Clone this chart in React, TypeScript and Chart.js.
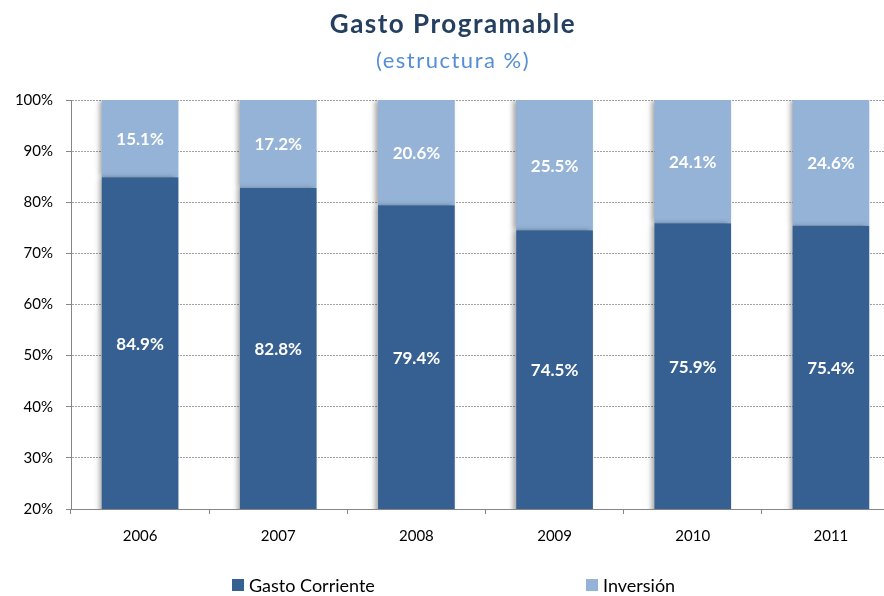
import React, { useEffect, useRef } from "react";
import { Chart, registerables } from "chart.js";

Chart.register(...registerables);

const categories = ["2006", "2007", "2008", "2009", "2010", "2011"];
const gastoCorriente = [84.9, 82.8, 79.4, 74.5, 75.9, 75.4];
const inversion = [15.1, 17.2, 20.6, 25.5, 24.1, 24.6];
const seriesNames = ["Gasto Corriente", "Inversión"];
const yTicks = [20, 30, 40, 50, 60, 70, 80, 90, 100];

const DARK = "#376092";
const LIGHT = "#95B3D7";
const FONT = "Lato, 'Open Sans', sans-serif";

const decorPlugin = {
  id: "decor",
  beforeDatasetsDraw(chart: any) {
    const ctx = chart.ctx;
    ctx.save();
    ctx.shadowColor = "rgba(0,0,0,0.35)";
    ctx.shadowBlur = 5;
    ctx.shadowOffsetX = -3;
    ctx.shadowOffsetY = 0;
  },
  afterDatasetsDraw(chart: any) {
    const ctx = chart.ctx;
    ctx.restore();
    const area = chart.chartArea;
    ctx.save();
    ctx.fillStyle = "#ffffff";
    ctx.font = `bold 17px ${FONT}`;
    ctx.textAlign = "center";
    ctx.textBaseline = "middle";
    chart.data.datasets.forEach((ds: any, i: number) => {
      const meta = chart.getDatasetMeta(i);
      meta.data.forEach((bar: any, j: number) => {
        const top = Math.max(bar.y, area.top);
        const bottom = Math.min(bar.base, area.bottom);
        ctx.fillText(ds.data[j].toFixed(1) + "%", bar.x, (top + bottom) / 2 + 1);
      });
    });
    ctx.restore();
  },
  afterDraw(chart: any) {
    const ctx = chart.ctx;
    const cx = chart.width / 2 + 3;
    ctx.save();
    ctx.textAlign = "center";
    ctx.textBaseline = "alphabetic";
    ctx.fillStyle = "#243F60";
    ctx.font = `bold 26px ${FONT}`;
    (ctx as any).letterSpacing = "1.5px";
    ctx.fillText("Gasto Programable", cx, 33);
    ctx.fillStyle = "#558ED5";
    ctx.font = `22px ${FONT}`;
    (ctx as any).letterSpacing = "1.5px";
    ctx.fillText("(estructura %)", cx, 68);
    (ctx as any).letterSpacing = "0px";

    // legend
    const colors = [DARK, LIGHT];
    const starts = [232, 586];
    ctx.font = `18px ${FONT}`;
    ctx.textAlign = "left";
    ctx.textBaseline = "middle";
    seriesNames.forEach((name, i) => {
      ctx.fillStyle = colors[i];
      ctx.fillRect(starts[i], 579, 12, 12);
      ctx.fillStyle = "#000000";
      ctx.fillText(name, starts[i] + 17, 586);
    });
    ctx.restore();
  },
};

export default function App() {
  const ref = useRef<HTMLCanvasElement | null>(null);
  useEffect(() => {
    if (!ref.current) return;
    const chart = new Chart(ref.current, {
      type: "bar",
      data: {
        labels: categories,
        datasets: [
          {
            label: seriesNames[0],
            data: gastoCorriente,
            backgroundColor: DARK,
            barPercentage: 0.555,
            categoryPercentage: 1,
          },
          {
            label: seriesNames[1],
            data: inversion,
            backgroundColor: LIGHT,
            barPercentage: 0.555,
            categoryPercentage: 1,
          },
        ],
      },
      options: {
        animation: false,
        responsive: false,
        devicePixelRatio: 1,
        layout: { padding: { top: 100, bottom: 47, left: 0, right: 0 } },
        plugins: {
          legend: { display: false },
          title: { display: false },
          tooltip: { enabled: false },
        },
        scales: {
          x: {
            stacked: true,
            grid: {
              display: true,
              drawOnChartArea: false,
              drawTicks: true,
              tickLength: 5,
              tickColor: "#868686",
              offset: true,
            },
            border: { display: true, color: "#868686", width: 1 },
            ticks: {
              color: "#000000",
              font: { family: FONT, size: 15 },
              padding: 13,
            },
            afterFit(s: any) {
              s.height = 40;
            },
          },
          y: {
            stacked: true,
            min: 20,
            max: 100,
            afterBuildTicks(s: any) {
              s.ticks = yTicks.map((v) => ({ value: v }));
            },
            grid: {
              color: "#A0A0A0",
              lineWidth: 1,
              tickLength: 5,
              tickColor: "#868686",
              tickBorderDash: [],
            },
            border: { display: true, color: "#868686", width: 1, dash: [2, 1] },
            ticks: {
              color: "#000000",
              font: { family: FONT, size: 15 },
              padding: 13,
              callback: (v: any) => v + "%",
            },
            afterFit(s: any) {
              s.width = 71;
            },
          },
        },
      },
      plugins: [decorPlugin],
    });
    return () => chart.destroy();
  }, []);
  return (
    <div
      style={{
        position: "fixed",
        left: 0,
        top: 0,
        width: 884,
        height: 596,
        overflow: "hidden",
        background: "#ffffff",
      }}
    >
      <canvas ref={ref} width={900} height={596} style={{ display: "block" }} />
    </div>
  );
}
